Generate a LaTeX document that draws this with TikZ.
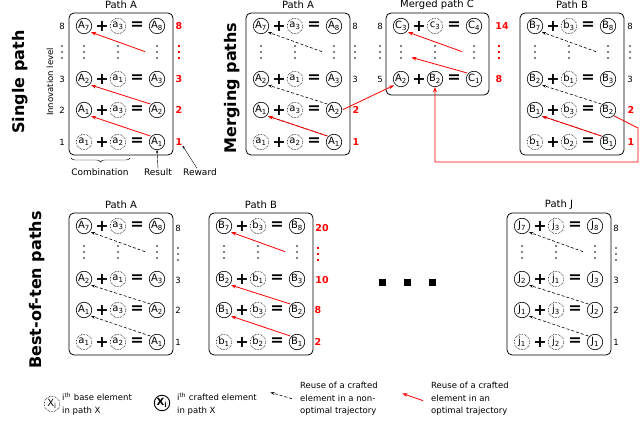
\documentclass[tikz,border=0pt]{standalone}
\usepackage{fontspec}
\setmainfont{DejaVu Sans}
\usetikzlibrary{arrows.meta,decorations.pathreplacing}
\newcommand\erow[8]{%
 \node[#4] (#1-1) at ({#2+15},{#3}) {#5};
 \node[op] (#1-p) at ({#2+33},{#3}) {+};
 \node[#6] (#1-2) at ({#2+49},{#3}) {#7};
 \node[op] (#1-e) at ({#2+68},{#3}) {=};
 \node[cr] (#1-3) at ({#2+88},{#3}) {#8};}
\newcommand\vdts[2]{\foreach \k in {-6,0,6}{\fill ({#1},{#2+\k}) circle (0.9pt);}}
\newcommand\rdts[2]{\foreach \k in {-6,0,6}{\fill[red] ({#1-1.3},{#2+\k-1.3}) rectangle +(2.6,2.6);}}
\newcommand\drow[3]{\vdts{#2+15}{#3}\vdts{#2+49}{#3}\vdts{#2+88}{#3}\coordinate (#1) at ({#2+77},{#3});}
\newcommand\fpanel[7]{%
 \draw[box] (#2,#3) rectangle ({#2+104},{#3+142});
 \node[ttl] (#1-t) at ({#2+52},{#3-8}) {#7};
 \erow{#1-r8}{#2}{#3+13}{cr}{#4\textsubscript{7}}{ba}{#5\textsubscript{3}}{#4\textsubscript{8}}
 \drow{#1-d}{#2}{#3+39}
 \erow{#1-r3}{#2}{#3+66}{cr}{#4\textsubscript{2}}{ba}{#5\textsubscript{1}}{#4\textsubscript{3}}
 \erow{#1-r2}{#2}{#3+97}{cr}{#4\textsubscript{1}}{ba}{#5\textsubscript{3}}{#4\textsubscript{2}}
 \erow{#1-r1}{#2}{#3+129}{ba}{#5\textsubscript{1}}{ba}{#5\textsubscript{2}}{#4\textsubscript{1}}
 \draw[#6] (#1-r1-3.north west) -- (#1-r2-1.south east);
 \draw[#6] (#1-r2-3.north west) -- (#1-r3-1.south east);
 \draw[#6] (#1-d) -- (#1-r8-1.south east);}
\begin{document}
\begin{tikzpicture}[x=1pt,y=-1pt,
 cr/.style={circle,draw,line width=0.6pt,minimum size=15.5pt,inner sep=0pt,font=\fontsize{10}{10}\selectfont},
 ba/.style={cr,densely dotted},
 op/.style={font=\fontsize{16}{16}\selectfont\bfseries,inner sep=0pt},
 lv/.style={font=\fontsize{8.5}{9}\selectfont,inner sep=0pt},
 rw/.style={font=\fontsize{9.5}{10}\selectfont\bfseries,text=red,inner sep=0pt},
 ttl/.style={font=\fontsize{10}{10}\selectfont,inner sep=0pt},
 box/.style={draw,rounded corners=5pt,line width=0.8pt},
 redarr/.style={red,line width=0.8pt,shorten <=1pt,shorten >=1.5pt,-{Stealth[length=5pt]}},
 blkarr/.style={densely dashed,line width=0.6pt,shorten <=1pt,shorten >=1.5pt,-{Stealth[length=4pt]}},
 big/.style={font=\fontsize{16}{16}\selectfont\bfseries,rotate=90,inner sep=0pt},
 lg/.style={font=\fontsize{8.5}{12.5}\selectfont,align=left,anchor=west,inner sep=0pt}]
\useasboundingbox (0,0) rectangle (640,438);

% ---------- Single path
\node[big] (s-lab) at (20,82) {Single path};
\node[lv,rotate=90] (s-inn) at (50,82) {Innovation level};
\fpanel{sA}{69}{13}{A}{a}{redarr}{Path A}
\node[lv] (sA-l8) at (62,26) {8}; \vdts{62}{52}
\node[lv] (sA-l3) at (62,79) {3};
\node[lv] (sA-l2) at (62,110) {2};
\node[lv] (sA-l1) at (62,142) {1};
\node[rw] (sA-w8) at (179,26) {8}; \rdts{179}{52}
\node[rw] (sA-w3) at (179,79) {3};
\node[rw] (sA-w2) at (179,110) {2};
\node[rw] (sA-w1) at (179,142) {1};
\draw[decorate,decoration={brace,mirror,amplitude=4pt}] (71,158) -- (130,158);
\node[lv,font=\fontsize{9}{9}\selectfont] (comb) at (100,172) {Combination};
\node[lv,font=\fontsize{9}{9}\selectfont] (res) at (158,172) {Result};
\node[lv,font=\fontsize{9}{9}\selectfont] (rew) at (200,172) {Reward};
\draw[-{Stealth[length=3pt]},line width=0.4pt] (res.north) -- (sA-r1-3.south);
\draw[-{Stealth[length=3pt]},line width=0.4pt] ([xshift=-3pt]rew.north) -- (sA-w1.south east);

% ---------- Merging paths
\node[big] (m-lab) at (232,88) {Merging paths};
\fpanel{mA}{246}{13}{A}{a}{blkarr}{Path A}
\draw[redarr] (mA-r1-3.north west) -- (mA-r2-1.south east);
\node[lv] (mA-l8) at (355,26) {8}; \vdts{355}{52}
\node[lv] (mA-l3) at (355,79) {3};
\node[rw] (mA-w2) at (356,110) {2};
\node[rw] (mA-w1) at (356,142) {1};

\fpanel{mB}{520}{13}{B}{b}{blkarr}{Path B}
\draw[redarr] (mB-r1-3.north west) -- (mB-r2-1.south east);
\node[lv] (mB-l8) at (630,26) {8}; \vdts{630}{52}
\node[lv] (mB-l3) at (630,79) {3};
\node[rw] (mB-w2) at (631,110) {2};
\node[rw] (mB-w1) at (631,142) {1};

% merged C
\draw[box] (386,13) rectangle (489,95);
\node[ttl] (C-t) at (437,5) {Merged path C};
\erow{C-r8}{386}{26}{cr}{C\textsubscript{3}}{ba}{c\textsubscript{3}}{C\textsubscript{4}}
\drow{C-d}{386}{52}
\erow{C-b}{386}{79}{cr}{A\textsubscript{2}}{cr}{B\textsubscript{2}}{C\textsubscript{1}}
\coordinate (C-dl) at (410,57);
\draw[redarr] (C-b-3.north west) -- (C-dl);
\draw[redarr] (C-d) -- (C-r8-1.south east);
\node[lv] (C-l8) at (380,26) {8}; \vdts{380}{52}
\node[lv] (C-l5) at (380,79) {5};
\node[rw] (C-w14) at (502,26) {14}; \rdts{499}{52}
\node[rw] (C-w8) at (499,79) {8};
\draw[redarr] (mA-r2-3.east) -- (C-b-1.south west);
\coordinate (k1) at (638,128);
\coordinate (k2) at (638,162);
\draw[redarr,shorten <=0pt,shorten >=0pt] (mB-r2-3.south east) -- (k1) -- (k2) -| (C-b-2.south);

% ---------- Best of ten
\node[big] (b-lab) at (37,290) {Best-of-ten paths};
\fpanel{bA}{69}{213}{A}{a}{blkarr}{Path A}
\node[lv] (bA-l8) at (178,228) {8}; \vdts{178}{254}
\node[lv] (bA-l3) at (178,280) {3};
\node[lv] (bA-l2) at (178,310) {2};
\node[lv] (bA-l1) at (178,342) {1};
\fpanel{bB}{209}{213}{B}{b}{redarr}{Path B}
\node[rw] (bB-w20) at (322,228) {20}; \rdts{318}{254}
\node[rw] (bB-w10) at (322,280) {10};
\node[rw] (bB-w8) at (318,310) {8};
\node[rw] (bB-w2) at (318,342) {2};
\fpanel{bJ}{507}{213}{J}{j}{blkarr}{Path J}
\node[lv] (bJ-l8) at (616,228) {8}; \vdts{616}{254}
\node[lv] (bJ-l3) at (616,280) {3};
\node[lv] (bJ-l2) at (616,310) {2};
\node[lv] (bJ-l1) at (616,342) {1};
\foreach \xx in {382,407,432}{\fill ({\xx-3.5},279.5) rectangle +(7,7);}

% ---------- Legend
\node[ba] (lg1) at (52,404) {X\textsubscript{i}};
\node[lg] (lg1t) at (62,404) {i\textsuperscript{th} base element\\in path X};
\node[cr,line width=0.9pt,font=\fontsize{10}{10}\selectfont\bfseries] (lg2) at (162,403) {X\textsubscript{i}};
\node[lg] (lg2t) at (177,404) {i\textsuperscript{th} crafted element\\in path X};
\coordinate (lg3a) at (293,399); \coordinate (lg3b) at (269,392);
\draw[blkarr] (lg3a) -- (lg3b);
\node[lg] (lg3t) at (300,399) {Reuse of a crafted\\element in a non-\\optimal trajectory};
\coordinate (lg4a) at (424,401); \coordinate (lg4b) at (401,393);
\draw[redarr] (lg4a) -- (lg4b);
\node[lg] (lg4t) at (431,399) {Reuse of a crafted\\element in an\\optimal trajectory};
\end{tikzpicture}
\end{document}
